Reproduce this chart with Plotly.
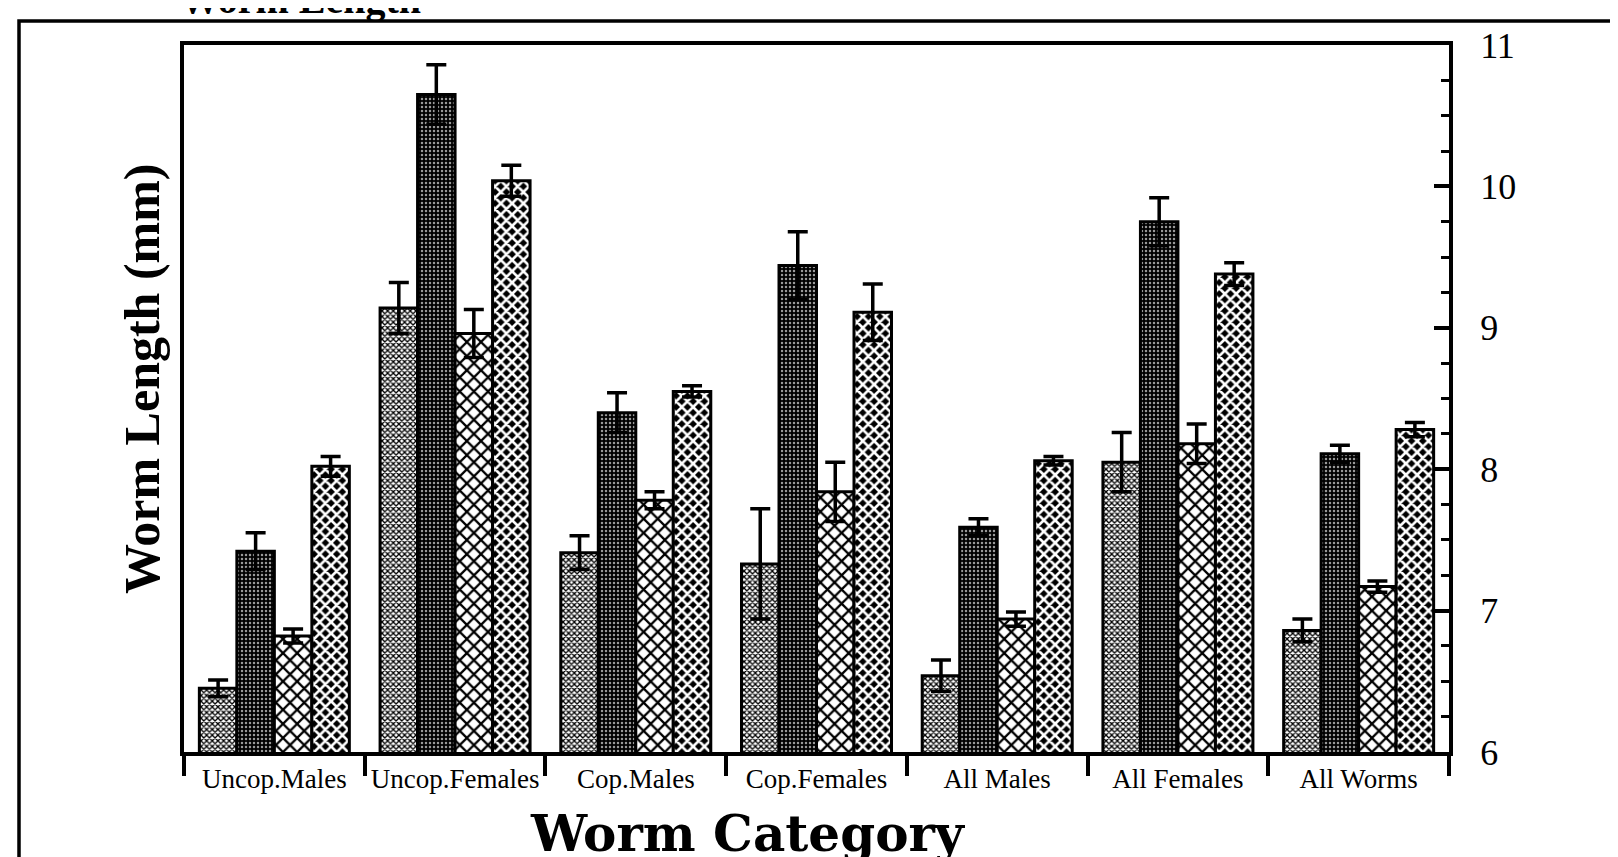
import plotly.graph_objects as go

categories = ["Uncop.Males", "Uncop.Females", "Cop.Males", "Cop.Females",
              "All Males", "All Females", "All Worms"]

s1 = [6.45, 9.14, 7.41, 7.33, 6.54, 8.05, 6.86]
s1_err = [0.06, 0.18, 0.12, 0.39, 0.11, 0.21, 0.08]
s2 = [7.42, 10.65, 8.40, 9.44, 7.59, 9.75, 8.11]
s2_err = [0.13, 0.21, 0.14, 0.24, 0.06, 0.17, 0.06]
s3 = [6.82, 8.96, 7.78, 7.84, 6.94, 8.18, 7.17]
s3_err = [0.05, 0.17, 0.06, 0.21, 0.05, 0.14, 0.04]
s4 = [8.02, 10.04, 8.55, 9.11, 8.06, 9.38, 8.28]
s4_err = [0.07, 0.11, 0.04, 0.20, 0.03, 0.08, 0.05]

y_ticks = [6, 7, 8, 9, 10, 11]

FONT = "Liberation Serif"

series = [
    ("Series 1", s1, s1_err, dict(shape="x", fgcolor="black", bgcolor="white", size=4, solidity=0.55)),
    ("Series 2", s2, s2_err, dict(shape=".", fgcolor="#9a9a9a", bgcolor="black", size=4, solidity=0.3)),
    ("Series 3", s3, s3_err, dict(shape="x", fgcolor="black", bgcolor="white", size=10, solidity=0.4)),
    ("Series 4", s4, s4_err, dict(shape="x", fgcolor="white", bgcolor="black", size=8, solidity=0.55)),
]

fig = go.Figure()
for name, vals, errs, pat in series:
    fig.add_trace(go.Bar(
        x=categories, y=vals, name=name, showlegend=False,
        marker=dict(color="white", pattern=dict(fillmode="replace", **pat),
                    line=dict(color="black", width=3)),
        error_y=dict(type="data", array=errs, symmetric=True, color="black",
                     thickness=3.5, width=10),
    ))

W, H = 1618, 857
L, R, T, B = 176, 1441, 37, 744


def px(x):
    return (x - L) / (R - L)


def py(y):
    return (B - y) / (B - T)


fig.update_layout(
    width=W, height=H,
    margin=dict(l=L, r=W - R, t=T, b=H - B, pad=0),
    paper_bgcolor="white", plot_bgcolor="white",
    barmode="group", bargap=0.17, bargroupgap=0,
    font=dict(family=FONT, color="black"),
    xaxis=dict(
        type="category", range=[-0.5, 6.5], tickson="boundaries",
        ticks="outside", ticklen=20, tickwidth=3.5, tickcolor="black",
        showline=True, linewidth=4, linecolor="black", mirror=True,
        showgrid=False, tickfont=dict(family=FONT, size=27, color="black"),
    ),
    yaxis=dict(
        range=[6, 11], side="right", tickvals=y_ticks,
        ticks="inside", ticklen=15, tickwidth=3.5, tickcolor="black",
        minor=dict(dtick=0.25, tick0=6, ticks="inside", ticklen=8,
                   tickwidth=3, tickcolor="black", showgrid=False),
        showline=True, linewidth=4, linecolor="black", mirror=True,
        showgrid=False, zeroline=False, ticklabelstandoff=20,
        tickfont=dict(family=FONT, size=36, color="black"),
    ),
    shapes=[dict(type="rect", xref="paper", yref="paper",
                 x0=px(11), x1=px(1614), y0=py(900), y1=py(13),
                 line=dict(color="black", width=3.5), fillcolor="rgba(0,0,0,0)")],
    annotations=[
        dict(text="<b>Worm Category</b>", xref="paper", yref="paper",
             x=px(740), y=py(825), xanchor="center", yanchor="middle",
             showarrow=False, font=dict(family="DejaVu Serif", size=50, color="black")),
        dict(text="<b>Worm Length (mm)</b>", xref="paper", yref="paper",
             x=px(134), y=py(371), xanchor="center", yanchor="middle",
             textangle=-90, showarrow=False,
             font=dict(family=FONT, size=50, color="black")),
        dict(text="<b>Worm Length</b>", xref="paper", yref="paper",
             x=px(170), y=py(16), xanchor="left", yanchor="bottom",
             showarrow=False, font=dict(family=FONT, size=40, color="black")),
    ],
)

fig.write_html("out.html")
